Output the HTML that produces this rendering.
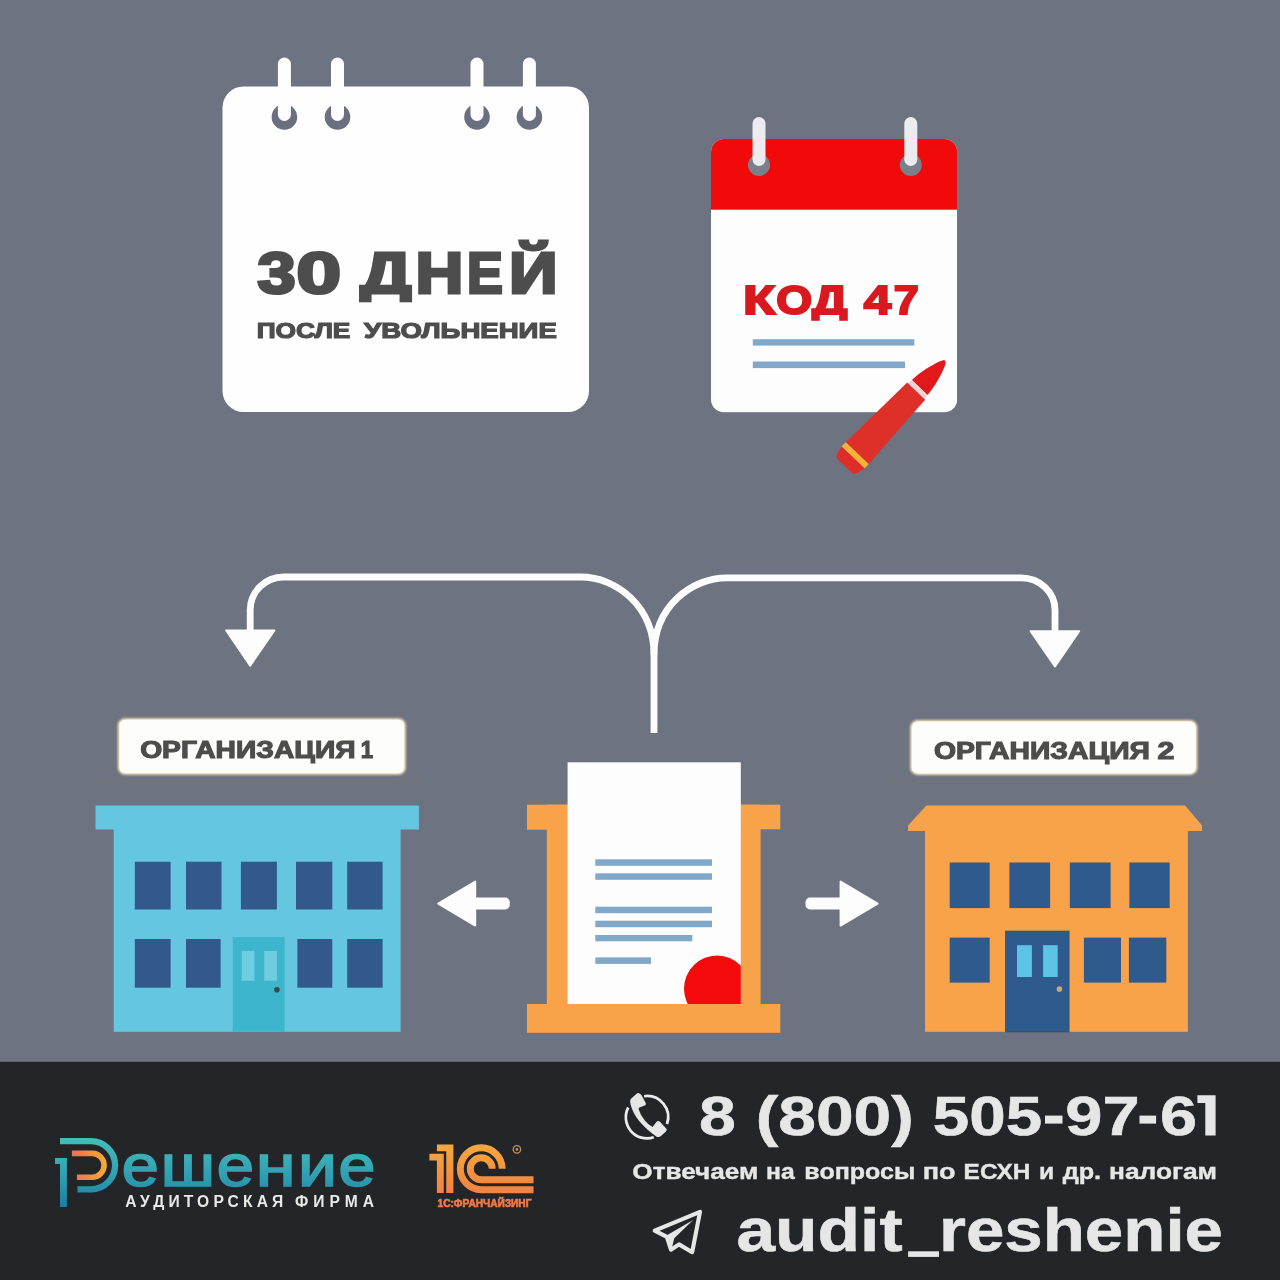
<!DOCTYPE html>
<html lang="ru">
<head>
<meta charset="utf-8">
<title>30 дней после увольнения</title>
<style>
  html, body { margin: 0; padding: 0; background: #6e7381; }
  body { width: 1280px; height: 1280px; overflow: hidden; position: relative;
         font-family: "Liberation Sans", sans-serif; }
  svg { will-change: transform; position: absolute; left: 0; top: 0; display: block; }
  text { font-family: "Liberation Sans", sans-serif; font-weight: bold; }
</style>
</head>
<body>
<svg width="1280" height="1280" viewBox="0 0 1280 1280">
  <defs>
    <linearGradient id="gTeal" gradientUnits="userSpaceOnUse" x1="0" y1="1138" x2="0" y2="1207">
      <stop offset="0" stop-color="#46bdb9"/>
      <stop offset="0.55" stop-color="#2f9fb3"/>
      <stop offset="1" stop-color="#1b7fa3"/>
    </linearGradient>
    <linearGradient id="gOrangeP" gradientUnits="userSpaceOnUse" x1="72" y1="0" x2="107" y2="0">
      <stop offset="0" stop-color="#f26d55"/>
      <stop offset="1" stop-color="#f6ad2f"/>
    </linearGradient>
    <linearGradient id="g1c" gradientUnits="userSpaceOnUse" x1="0" y1="1144" x2="0" y2="1207">
      <stop offset="0" stop-color="#f6a93c"/>
      <stop offset="1" stop-color="#ef7745"/>
    </linearGradient>
    <filter id="glow" x="-5%" y="-20%" width="110%" height="140%"><feGaussianBlur stdDeviation="0.9"/></filter>
    <clipPath id="clipPaper"><rect x="567.6" y="762.3" width="173.2" height="241.7"/></clipPath>
    <clipPath id="clipCal2"><rect x="711" y="139" width="246.2" height="273.4" rx="13" ry="13"/></clipPath>
  </defs>

  <!-- background -->
  <rect x="0" y="0" width="1280" height="1280" fill="#6e7381"/>

  <!-- ===== calendar 1 (white) ===== -->
  <g id="cal1">
    <rect x="222.5" y="86.5" width="366.5" height="325.5" rx="21" ry="21" fill="#fefefe"/>
    <g fill="#6a7080">
      <circle cx="284.4" cy="117" r="12.8"/>
      <circle cx="337.5" cy="117" r="12.8"/>
      <circle cx="477" cy="117" r="12.8"/>
      <circle cx="529.4" cy="117" r="12.8"/>
    </g>
    <g fill="#fefefe">
      <rect x="277.9" y="57.5" width="13" height="63.5" rx="6.5"/>
      <rect x="331" y="57.5" width="13" height="63.5" rx="6.5"/>
      <rect x="470.5" y="57.5" width="13" height="63.5" rx="6.5"/>
      <rect x="522.9" y="57.5" width="13" height="63.5" rx="6.5"/>
    </g>
    <text x="257.62" y="292.6" font-size="58" fill="#4d4d4d" stroke="#4d4d4d" stroke-width="3" stroke-linejoin="miter" textLength="38.17" lengthAdjust="spacingAndGlyphs">3</text>
    <text x="296.64" y="292.6" font-size="58" fill="#4d4d4d" stroke="#4d4d4d" stroke-width="3" stroke-linejoin="miter" textLength="44.58" lengthAdjust="spacingAndGlyphs">0</text>
    <text x="360.20" y="292.6" font-size="58" fill="#4d4d4d" stroke="#4d4d4d" stroke-width="3" stroke-linejoin="miter" textLength="51.30" lengthAdjust="spacingAndGlyphs">Д</text>
    <text x="415.47" y="292.6" font-size="58" fill="#4d4d4d" stroke="#4d4d4d" stroke-width="3" stroke-linejoin="miter" textLength="47.87" lengthAdjust="spacingAndGlyphs">Н</text>
    <text x="467.12" y="292.6" font-size="58" fill="#4d4d4d" stroke="#4d4d4d" stroke-width="3" stroke-linejoin="miter" textLength="35.84" lengthAdjust="spacingAndGlyphs">Е</text>
    <text x="508.90" y="292.6" font-size="58" fill="#4d4d4d" stroke="#4d4d4d" stroke-width="3" stroke-linejoin="miter" textLength="48.60" lengthAdjust="spacingAndGlyphs">Й</text>
    <rect x="352" y="302.3" width="68" height="9" fill="#fefefe"/>
    <text x="256.73" y="337.6" font-size="22.5" fill="#4d4d4d" stroke="#4d4d4d" stroke-width="1.2" textLength="93.68" lengthAdjust="spacingAndGlyphs">ПОСЛЕ</text>
    <text x="364.10" y="337.6" font-size="22.5" fill="#4d4d4d" stroke="#4d4d4d" stroke-width="1.2" textLength="192.71" lengthAdjust="spacingAndGlyphs">УВОЛЬНЕНИЕ</text>
  </g>

  <!-- ===== calendar 2 (red) ===== -->
  <g id="cal2">
    <g clip-path="url(#clipCal2)">
      <rect x="711" y="139" width="246.2" height="273.4" fill="#fdfdfd"/>
      <rect x="711" y="139" width="246.2" height="70.7" fill="#f00a0a"/>
    </g>
    <g fill="#7a7f8c">
      <circle cx="759" cy="165" r="11"/>
      <circle cx="910.8" cy="165" r="11"/>
    </g>
    <g fill="#ececf0">
      <rect x="752.5" y="117" width="13" height="49" rx="6.5"/>
      <rect x="904.3" y="117" width="13" height="49" rx="6.5"/>
    </g>
    <text x="742.96" y="314" font-size="40" fill="#d8191f" stroke="#d8191f" stroke-width="2" textLength="32.27" lengthAdjust="spacingAndGlyphs">К</text>
    <text x="776.34" y="314" font-size="40" fill="#d8191f" stroke="#d8191f" stroke-width="2" textLength="35.94" lengthAdjust="spacingAndGlyphs">О</text>
    <text x="812.00" y="314" font-size="40" fill="#d8191f" stroke="#d8191f" stroke-width="2" textLength="35.42" lengthAdjust="spacingAndGlyphs">Д</text>
    <text x="863.70" y="314" font-size="40" fill="#d8191f" stroke="#d8191f" stroke-width="2" textLength="27.47" lengthAdjust="spacingAndGlyphs">4</text>
    <text x="893.67" y="314" font-size="40" fill="#d8191f" stroke="#d8191f" stroke-width="2" textLength="25.03" lengthAdjust="spacingAndGlyphs">7</text>
    <rect x="806" y="320.8" width="54" height="6" fill="#fdfdfd"/>
    <rect x="752.8" y="339.2" width="161.5" height="6.4" fill="#82a8c9"/>
    <rect x="752.8" y="361.5" width="152.2" height="6.6" fill="#82a8c9"/>
    <!-- pen -->
    <g transform="translate(944.8,361.1) rotate(43.6)">
      <path d="M0,-0.5 C-1.5,-0.5 -2.5,1.5 -3.5,4 C-7,13 -10,24 -10.8,36.5 L10.8,36.5 C10,24 7,13 3.5,4 C2.5,1.5 1.5,-0.5 0,-0.5 Z" fill="#e1181c"/>
      <polygon points="-10.8,36.5 10.8,36.5 11.4,41.5 -11.4,41.5" fill="#f2d3d6"/>
      <polygon points="-12.4,41.5 12.4,41.5 15.8,127 -15.8,127" fill="#de3029"/>
      <polygon points="-15.8,127 15.8,127 16,133 -16,133" fill="#fbb03a"/>
      <path d="M-16,133 H16 L14,141 Q13.2,145 9,145 H-9 Q-13.2,145 -14,141 Z" fill="#df2d2a"/>
    </g>
  </g>

  <!-- ===== flow arrows ===== -->
  <g id="flow" fill="none" stroke="#fdfdfd" stroke-width="6.8" stroke-linecap="butt">
    <path d="M654,733 V655 C654,606 616,577 581,577 H283.5 A33.3,33 0 0 0 250.2,610 V632"/>
    <path d="M654,655 C654,606 692,577.8 727,577.8 H1021 A34,32 0 0 1 1055,609.8 V632"/>
  </g>
  <g fill="#fdfdfd" stroke="#fdfdfd" stroke-width="2" stroke-linejoin="round">
    <polygon points="226.2,630.4 274.4,630.4 250.2,665.6"/>
    <polygon points="1030.6,631.3 1079.2,631.3 1055,666.4"/>
  </g>

  <!-- small arrows -->
  <g fill="#fdfdfd" stroke="#fdfdfd" stroke-width="2" stroke-linejoin="round">
    <polygon points="438.3,903.6 475.2,881.6 475.2,925.6"/>
    <polygon points="877.6,903.6 840.6,881.6 840.6,925.6"/>
  </g>
  <rect x="470" y="897.6" width="39.8" height="11.8" rx="4.5" fill="#fdfdfd"/>
  <rect x="805.5" y="897.6" width="39.8" height="11.8" rx="4.5" fill="#fdfdfd"/>

  <!-- ===== labels ===== -->
  <g id="labels">
    <rect x="118.6" y="719" width="286.4" height="55" rx="6.5" fill="#f6e0b8" stroke="#f6e0b8" stroke-width="1.6" filter="url(#glow)"/>
    <rect x="119.4" y="719.8" width="284.8" height="53.4" rx="6" fill="#fdfdfc"/>
    <rect x="911" y="720.8" width="285.6" height="53.4" rx="6.5" fill="#f6e0b8" stroke="#f6e0b8" stroke-width="1.6" filter="url(#glow)"/>
    <rect x="911.8" y="721.6" width="284" height="51.8" rx="6" fill="#fdfdfc"/>
    <text x="140.15" y="757.8" font-size="23" fill="#4d4d4d" stroke="#4d4d4d" stroke-width="1.1" textLength="215.38" lengthAdjust="spacingAndGlyphs">ОРГАНИЗАЦИЯ</text>
    <text x="360.78" y="757.8" font-size="23" fill="#4d4d4d" stroke="#4d4d4d" stroke-width="1.1" textLength="12.37" lengthAdjust="spacingAndGlyphs">1</text>
    <text x="933.95" y="758.8" font-size="23" fill="#4d4d4d" stroke="#4d4d4d" stroke-width="1.1" textLength="215.98" lengthAdjust="spacingAndGlyphs">ОРГАНИЗАЦИЯ</text>
    <text x="1157.55" y="758.8" font-size="23" fill="#4d4d4d" stroke="#4d4d4d" stroke-width="1.1" textLength="16.84" lengthAdjust="spacingAndGlyphs">2</text>
    <rect x="95" y="781" width="330" height="1" fill="#8a7468" opacity="0.45"/>
    <rect x="890" y="781" width="326" height="1" fill="#8a7468" opacity="0.45"/>
  </g>

  <!-- ===== blue building ===== -->
  <g id="bldBlue">
    <rect x="95.5" y="805.5" width="323.4" height="24" fill="#65c6e1"/>
    <rect x="113.7" y="820" width="286.9" height="211.8" fill="#65c6e1"/>
    <g fill="#32598a">
      <rect x="134.8" y="861.7" width="35.8" height="47.8"/>
      <rect x="186" y="861.7" width="35.5" height="47.8"/>
      <rect x="240.9" y="861.7" width="36" height="47.8"/>
      <rect x="296" y="861.7" width="36.3" height="47.8"/>
      <rect x="347.2" y="861.7" width="35.4" height="47.8"/>
      <rect x="134.8" y="939" width="35.8" height="48.7"/>
      <rect x="186" y="939" width="34.6" height="48.7"/>
      <rect x="297.4" y="939" width="34.9" height="48.7"/>
      <rect x="347.2" y="939" width="35.4" height="48.7"/>
    </g>
    <rect x="232.7" y="937" width="52" height="94.8" fill="#3db5cc"/>
    <rect x="241.7" y="950.9" width="12.7" height="29.8" fill="#6fcde2"/>
    <rect x="264.2" y="950.9" width="12.7" height="29.8" fill="#6fcde2"/>
    <circle cx="276.9" cy="989.7" r="2.8" fill="#3b4a4c"/>
  </g>

  <!-- ===== document in tray ===== -->
  <g id="tray">
    <g fill="#f8a34a">
      <rect x="527" y="804.7" width="41" height="25"/>
      <rect x="546.8" y="804.7" width="21.2" height="200"/>
      <rect x="740.4" y="804.7" width="39.9" height="24.6"/>
      <rect x="740.4" y="804.7" width="20.2" height="200"/>
      <rect x="527" y="1004" width="253.3" height="28.8"/>
    </g>
    <rect x="567.6" y="762.3" width="173.2" height="241.7" fill="#fdfdfd"/>
    <g fill="#82a8c9">
      <rect x="595.3" y="859.3" width="116.7" height="6.5"/>
      <rect x="595.3" y="873.3" width="116.7" height="6.5"/>
      <rect x="595.3" y="906.7" width="116.7" height="6.5"/>
      <rect x="595.3" y="920.7" width="116.7" height="6.5"/>
      <rect x="595.3" y="935" width="97" height="6.3"/>
      <rect x="595.3" y="957.4" width="55.7" height="6.5"/>
    </g>
    <circle cx="717" cy="988.6" r="33" fill="#f40a0a" clip-path="url(#clipPaper)"/>
  </g>

  <!-- ===== orange building ===== -->
  <g id="bldOrange">
    <polygon points="926.4,805.5 1185.1,805.5 1202,825.5 1202,831 908.1,831 908.1,825.5" fill="#f8a34a"/>
    <rect x="925" y="820" width="262.9" height="211.8" fill="#f8a34a"/>
    <g fill="#2f5a8d">
      <rect x="949.7" y="862.5" width="40" height="45.6"/>
      <rect x="1009.4" y="862.5" width="40.7" height="45.6"/>
      <rect x="1069.8" y="862.5" width="40.8" height="45.6"/>
      <rect x="1129.4" y="862.5" width="40.3" height="45.6"/>
      <rect x="949.7" y="937.6" width="40" height="45"/>
      <rect x="1083.9" y="937.6" width="37.1" height="45"/>
      <rect x="1128.9" y="937.6" width="37.4" height="45"/>
    </g>
    <rect x="1005.7" y="931.2" width="63.3" height="100.6" fill="#2f5a8d" stroke="#2b4f7c" stroke-width="1"/>
    <rect x="1017" y="945.2" width="14.9" height="31.8" fill="#5cc5e6"/>
    <rect x="1043.1" y="945.2" width="14.6" height="31.8" fill="#5cc5e6"/>
    <circle cx="1059.4" cy="989.1" r="2.8" fill="#caa878"/>
  </g>

  <!-- ===== bottom bar ===== -->
  <rect x="0" y="1061.8" width="1280" height="218.2" fill="#242529"/>

  <!-- footer content inserted below -->
  <g id="footer">
    <!-- Reshenie logo mark -->
    <g fill="none" stroke-linecap="butt">
      <!-- outer P: top bar, bowl, bottom bar -->
      <path d="M60,1141.2 H91 A24.1,24.1 0 0 1 91,1189.4 H77.5" stroke="url(#gTeal)" stroke-width="6.3"/>
      <!-- inner orange D -->
      <path d="M71.9,1153.4 H92.2 A11.9,11.9 0 0 1 92.2,1177.2 H76.9" stroke="url(#gOrangeP)" stroke-width="5.6"/>
    </g>
    <!-- the "1" stem -->
    <path d="M55,1158.1 H66.9 V1206.9 H60 V1164 H55 Z" fill="url(#gTeal)"/>
    <text x="121.73" y="1186.2" font-size="60" fill="url(#gTeal)" style="font-weight:normal" stroke="url(#gTeal)" stroke-width="1.7" textLength="37.05" lengthAdjust="spacingAndGlyphs">е</text>
    <text x="160.74" y="1186.2" font-size="60" fill="url(#gTeal)" style="font-weight:normal" stroke="url(#gTeal)" stroke-width="1.7" textLength="54.33" lengthAdjust="spacingAndGlyphs">ш</text>
    <text x="216.72" y="1186.2" font-size="60" fill="url(#gTeal)" style="font-weight:normal" stroke="url(#gTeal)" stroke-width="1.7" textLength="37.28" lengthAdjust="spacingAndGlyphs">е</text>
    <text x="255.73" y="1186.2" font-size="60" fill="url(#gTeal)" style="font-weight:normal" stroke="url(#gTeal)" stroke-width="1.7" textLength="39.89" lengthAdjust="spacingAndGlyphs">н</text>
    <text x="298.11" y="1186.2" font-size="60" fill="url(#gTeal)" style="font-weight:normal" stroke="url(#gTeal)" stroke-width="1.7" textLength="38.87" lengthAdjust="spacingAndGlyphs">и</text>
    <text x="338.64" y="1186.2" font-size="60" fill="url(#gTeal)" style="font-weight:normal" stroke="url(#gTeal)" stroke-width="1.7" textLength="36.88" lengthAdjust="spacingAndGlyphs">е</text>
    <text x="125.30" y="1206.5" font-size="15.6" fill="#e9e9e9" letter-spacing="4.159">АУДИТОРСКАЯ</text>
    <text x="295.00" y="1206.5" font-size="15.6" fill="#e9e9e9" letter-spacing="5.012">ФИРМА</text>

    <!-- 1C franchising logo -->
    <g fill="url(#g1c)">
      <path d="M436.9,1144.6 H453.4 V1193.1 H446.25 V1151.25 H436.9 Z"/>
      <path d="M429.4,1153.75 H443.75 V1193.1 H436.9 V1160.6 H429.4 Z"/>
    </g>
    <g fill="none" stroke="url(#g1c)" stroke-width="6.9">
      <path d="M502.2,1168.75 A20.95,20.95 0 1 0 481.25,1189.7 H533.5"/>
      <path d="M492.2,1168.75 A10.95,10.95 0 1 0 481.25,1179.7 H533.5"/>
    </g>
    <circle cx="516.9" cy="1149.4" r="3.7" fill="none" stroke="#c98f5e" stroke-width="1.3"/>
    <circle cx="516.9" cy="1149.4" r="1.3" fill="#c98f5e"/>
    <text x="437.55" y="1206.5" font-size="10.3" fill="url(#g1c)" stroke="url(#g1c)" stroke-width="0.6" textLength="93.89" lengthAdjust="spacingAndGlyphs">1С:ФРАНЧАЙЗИНГ</text>

    <!-- phone icon -->
    <g transform="translate(610,1080) scale(0.0625)">
      <g fill="none" stroke="#ececee" stroke-width="44" stroke-linecap="butt">
        <path d="M545,260 A338,338 0 0 1 912,705"/>
        <path d="M700,917 A338,338 0 0 1 292,440"/>
      </g>
      <path d="M450,208 Q485,212 505,245 L575,375 Q580,395 555,407 L470,440 Q455,448 460,470 Q490,570 560,650 Q610,710 680,750 L745,668 Q765,648 795,665 L900,775 Q918,800 895,825 L810,900 Q775,925 735,898 Q600,810 470,660 Q370,540 330,395 Q310,320 340,295 L425,218 Q438,207 450,208 Z" fill="#e6e6e6"/>
    </g>
    <text x="698.91" y="1135.2" font-size="55.8" fill="#e6e6e6" stroke="#e6e6e6" stroke-width="0.6" textLength="36.81" lengthAdjust="spacingAndGlyphs">8</text>
    <text x="755.67" y="1135.2" font-size="55.8" fill="#e6e6e6" stroke="#e6e6e6" stroke-width="0.6" textLength="158.16" lengthAdjust="spacingAndGlyphs">(800)</text>
    <text x="932.88" y="1135.2" font-size="55.8" fill="#e6e6e6" stroke="#e6e6e6" stroke-width="0.6" textLength="109.28" lengthAdjust="spacingAndGlyphs">505</text>
    <text x="1065.35" y="1135.2" font-size="55.8" fill="#e6e6e6" stroke="#e6e6e6" stroke-width="0.6" textLength="74.28" lengthAdjust="spacingAndGlyphs">97</text>
    <text x="1160.11" y="1135.2" font-size="55.8" fill="#e6e6e6" stroke="#e6e6e6" stroke-width="0.6" textLength="37.07" lengthAdjust="spacingAndGlyphs">6</text>
    <path d="M1197.4,1095.2 H1215.6 V1135.6 H1205.3 V1103 H1197.4 Z" fill="#e6e6e6"/>
    <rect x="1045" y="1115.6" width="17.5" height="8" fill="#e6e6e6"/>
    <rect x="1139.5" y="1115.6" width="16.6" height="8" fill="#e6e6e6"/>
    <text x="632.30" y="1179.4" font-size="22.3" fill="#e6e6e6" stroke="#e6e6e6" stroke-width="0.4" textLength="126.05" lengthAdjust="spacingAndGlyphs">Отвечаем</text>
    <text x="766.09" y="1179.4" font-size="22.3" fill="#e6e6e6" stroke="#e6e6e6" stroke-width="0.4" textLength="28.64" lengthAdjust="spacingAndGlyphs">на</text>
    <text x="804.38" y="1179.4" font-size="22.3" fill="#e6e6e6" stroke="#e6e6e6" stroke-width="0.4" textLength="110.89" lengthAdjust="spacingAndGlyphs">вопросы</text>
    <text x="922.74" y="1179.4" font-size="22.3" fill="#e6e6e6" stroke="#e6e6e6" stroke-width="0.4" textLength="32.81" lengthAdjust="spacingAndGlyphs">по</text>
    <text x="963.61" y="1179.4" font-size="22.3" fill="#e6e6e6" stroke="#e6e6e6" stroke-width="0.4" textLength="66.90" lengthAdjust="spacingAndGlyphs">ЕСХН</text>
    <text x="1039.09" y="1179.4" font-size="22.3" fill="#e6e6e6" stroke="#e6e6e6" stroke-width="0.4" textLength="15.25" lengthAdjust="spacingAndGlyphs">и</text>
    <text x="1062.70" y="1179.4" font-size="22.3" fill="#e6e6e6" stroke="#e6e6e6" stroke-width="0.4" textLength="38.45" lengthAdjust="spacingAndGlyphs">др.</text>
    <text x="1109.02" y="1179.4" font-size="22.3" fill="#e6e6e6" stroke="#e6e6e6" stroke-width="0.4" textLength="108.04" lengthAdjust="spacingAndGlyphs">налогам</text>

    <!-- telegram icon -->
    <g transform="translate(640,1200) scale(0.0625)">
      <path d="M235,490 L960,190 L835,835 L625,710 L495,795 L430,590 Z" fill="none" stroke="#e6e6e6" stroke-width="66" stroke-linejoin="round"/>
      <polygon points="430,565 850,318 548,612 512,760 450,700" fill="#e6e6e6"/>
    </g>
    <text x="736.46" y="1251.3" font-size="61" fill="#e6e6e6" stroke="#e6e6e6" stroke-width="0.6" textLength="166.10" lengthAdjust="spacingAndGlyphs">audit</text>
    <rect x="908.1" y="1251.3" width="30.9" height="5.6" fill="#e6e6e6"/>
    <text x="939.07" y="1251.3" font-size="61" fill="#e6e6e6" stroke="#e6e6e6" stroke-width="0.6" textLength="283.90" lengthAdjust="spacingAndGlyphs">reshenie</text>
  </g>
</svg>
</body>
</html>
